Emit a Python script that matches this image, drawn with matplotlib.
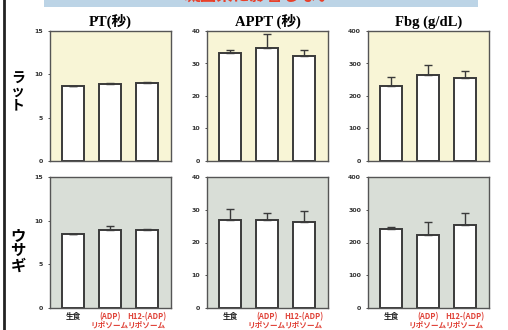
import matplotlib.pyplot as plt
from matplotlib.patches import Rectangle

plt.rcParams['font.family'] = ['DejaVu Sans', 'Noto Sans CJK JP']

groups = ["生食", "(ADP)\nリポソーム", "H12-(ADP)\nリポソーム"]
group_colors = ["#222222", "#e0443a", "#e0443a"]
species = ["ラ\nッ\nト", "ウ\nサ\nギ"]
titles = ["PT(秒)", "APPT (秒)", "Fbg (g/dL)"]
ylims = [15, 40, 400]
yticks = [[0, 5, 10, 15], [0, 10, 20, 30, 40], [0, 100, 200, 300, 400]]

# rat
rat_mean = [[8.6, 8.9, 9.0], [33.2, 34.8, 32.3], [232, 265, 255]]
rat_err = [[0.0, 0.1, 0.1], [0.8, 4.2, 1.9], [26, 29, 21]]
# rabbit
rab_mean = [[8.5, 8.9, 8.9], [27.0, 27.0, 26.4], [242, 223, 254]]
rab_err = [[0.0, 0.5, 0.1], [3.3, 2.1, 3.2], [5, 40, 35]]

W, H = 508, 330
fig = plt.figure(figsize=(W / 100, H / 100), dpi=100)
fig.patch.set_facecolor("white")

# banner at top (cut off in the original slide)
fig.patches.append(Rectangle((44 / W, 1 - 7 / H), 434 / W, 7 / H,
                             transform=fig.transFigure, facecolor="#bcd4e6",
                             edgecolor="none"))
fig.text(258 / W, 1 + 3 / H, "凝固系に影響しない", color="#e8402a", fontsize=12,
         fontweight="bold", ha="center", va="center", family=["Noto Sans CJK JP"])
# left border line
fig.add_artist(plt.Line2D([4 / W, 4 / W], [0, 1], transform=fig.transFigure,
                          color="#222222", lw=2))

col_left = [50, 207, 368]
rows = [(31, 161, rat_mean, rat_err, "#f8f5d6"),
        (177, 308, rab_mean, rab_err, "#d9ded7")]
x = [0, 1, 2]

for r, (top, bot, means, errs, bg) in enumerate(rows):
    for c in range(3):
        ax = fig.add_axes([col_left[c] / W, 1 - bot / H, 121 / W, (bot - top) / H])
        ax.set_facecolor(bg)
        ax.bar(x, means[c], width=0.61, color="white", edgecolor="#3a3a3a",
               linewidth=1.4, zorder=2)
        ax.errorbar(x, means[c], yerr=[[0, 0, 0], errs[c]], fmt="none",
                    ecolor="#3a3a3a", elinewidth=1, capsize=3, capthick=1, zorder=3)
        ax.set_xlim(-0.62, 2.65)
        ax.set_ylim(0, ylims[c])
        ax.set_yticks(yticks[c])
        ax.tick_params(axis="y", labelsize=4.5, length=1.5, pad=3.5,
                       colors="#333333", width=0.6)
        for lab in ax.get_yticklabels():
            lab.set_fontweight("bold")
        for sp in ax.spines.values():
            sp.set_color("#555555")
            sp.set_linewidth(1)
        if r == 1:
            ax.set_xticks(x)
            ax.set_xticklabels(groups, fontsize=5.5, fontweight="bold",
                               linespacing=0.95, family=["Noto Sans CJK JP"])
            for lab, col in zip(ax.get_xticklabels(), group_colors):
                lab.set_color(col)
            ax.tick_params(axis="x", length=0, pad=3)
        else:
            ax.set_xticks([])
            ax.set_title(titles[c], fontsize=10.5, fontweight="bold", pad=4,
                         family=["Liberation Serif", "Noto Sans CJK JP"])

fig.text(18 / W, 1 - 92 / H, species[0], fontsize=10, fontweight="bold",
         ha="center", va="center", linespacing=0.95, family=["Noto Sans CJK JP"])
fig.text(18 / W, 1 - 250 / H, species[1], fontsize=11, fontweight="bold",
         ha="center", va="center", linespacing=0.95, family=["Noto Sans CJK JP"])

fig.savefig("out.png", dpi=100)
